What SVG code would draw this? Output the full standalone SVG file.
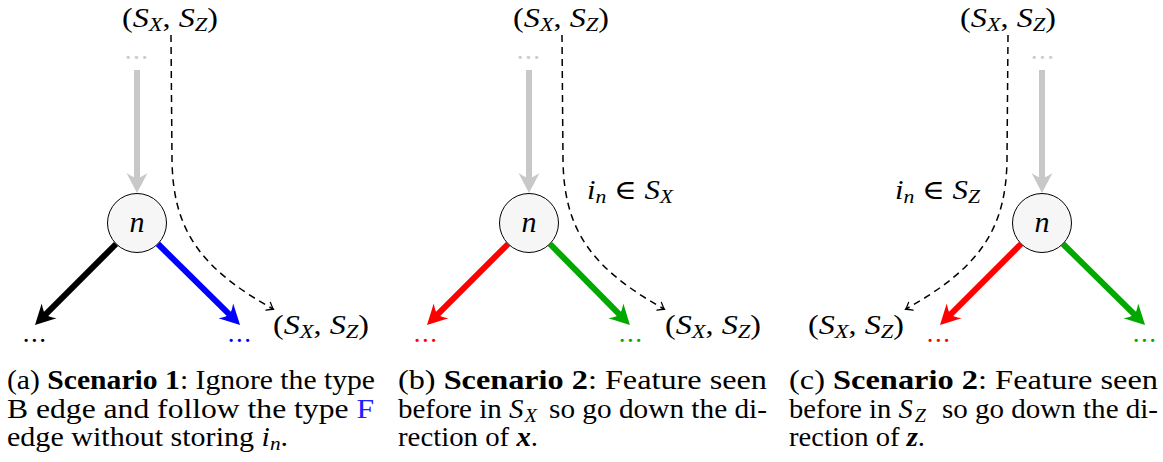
<svg xmlns="http://www.w3.org/2000/svg" width="1163" height="462" viewBox="0 0 1163 462">
<style>
text{font-family:"Liberation Serif","DejaVu Serif",serif;fill:#000;font-size:27px}
.m{font-style:italic}
.sub{font-size:19px;font-style:italic}
.b{font-weight:bold}
.dots{letter-spacing:1.5px;text-anchor:middle}
.node circle{fill:#f6f6f6;stroke:#000;stroke-width:1}
.nlab{font-size:30px;font-style:italic;text-anchor:middle}
.edge{fill:none;stroke-width:6}
.dash{fill:none;stroke:#000;stroke-width:1.5;stroke-dasharray:7 5}
</style>
<defs>
<marker id="hGrey" markerUnits="userSpaceOnUse" orient="auto" refX="0" refY="0" markerWidth="1" markerHeight="1" overflow="visible"><path d="M14,0 L-6,-10.5 Q-1,-3 -1,0 Q-1,3 -6,10.5 Z" fill="#c8c8c8"/></marker>
<marker id="hBlack" markerUnits="userSpaceOnUse" orient="auto" refX="0" refY="0" markerWidth="1" markerHeight="1" overflow="visible"><path d="M14,0 L-6,-10.5 Q-1,-3 -1,0 Q-1,3 -6,10.5 Z" fill="#000"/></marker>
<marker id="hBlue" markerUnits="userSpaceOnUse" orient="auto" refX="0" refY="0" markerWidth="1" markerHeight="1" overflow="visible"><path d="M14,0 L-6,-10.5 Q-1,-3 -1,0 Q-1,3 -6,10.5 Z" fill="#0000ff"/></marker>
<marker id="hRed" markerUnits="userSpaceOnUse" orient="auto" refX="0" refY="0" markerWidth="1" markerHeight="1" overflow="visible"><path d="M14,0 L-6,-10.5 Q-1,-3 -1,0 Q-1,3 -6,10.5 Z" fill="#ff0000"/></marker>
<marker id="hGreen" markerUnits="userSpaceOnUse" orient="auto" refX="0" refY="0" markerWidth="1" markerHeight="1" overflow="visible"><path d="M14,0 L-6,-10.5 Q-1,-3 -1,0 Q-1,3 -6,10.5 Z" fill="#00a800"/></marker>
<marker id="hDash" markerUnits="userSpaceOnUse" orient="auto" refX="0" refY="0" markerWidth="1" markerHeight="1" overflow="visible"><path d="M-5.5,-4.5 Q-1.5,-1 0.5,0 Q-1.5,1 -5.5,4.5" fill="none" stroke="#000" stroke-width="1.3" stroke-linecap="round"/></marker>
</defs>

<!-- connectors -->
<g id="connectors">
  <!-- panel a -->
  <line class="edge" x1="137" y1="70" x2="137" y2="179" stroke="#c8c8c8" marker-end="url(#hGrey)"/>
  <line class="edge" x1="116" y1="244" x2="44.9" y2="315.1" stroke="#000" marker-end="url(#hBlack)"/>
  <line class="edge" x1="158" y1="244" x2="230.1" y2="315.1" stroke="#0000ff" marker-end="url(#hBlue)"/>
  <path class="dash" d="M171,35 L172,160 C173,230 200,268 273,309" marker-end="url(#hDash)"/>
  <!-- panel b -->
  <line class="edge" x1="529" y1="70" x2="529" y2="179" stroke="#c8c8c8" marker-end="url(#hGrey)"/>
  <line class="edge" x1="508" y1="244" x2="436.9" y2="315.1" stroke="#ff0000" marker-end="url(#hRed)"/>
  <line class="edge" x1="550" y1="244" x2="620.1" y2="315.1" stroke="#00a800" marker-end="url(#hGreen)"/>
  <path class="dash" d="M562,35 L563,160 C564,230 591,268 664,309" marker-end="url(#hDash)"/>
  <!-- panel c -->
  <line class="edge" x1="1042" y1="70" x2="1042" y2="179" stroke="#c8c8c8" marker-end="url(#hGrey)"/>
  <line class="edge" x1="1021" y1="244" x2="949.9" y2="315.1" stroke="#ff0000" marker-end="url(#hRed)"/>
  <line class="edge" x1="1063" y1="244" x2="1135.1" y2="315.1" stroke="#00a800" marker-end="url(#hGreen)"/>
  <path class="dash" d="M1008,35 L1007,160 C1006,230 979,268 906,309" marker-end="url(#hDash)"/>
</g>

<!-- nodes -->
<g id="node-a" class="node"><circle cx="137" cy="223" r="29.5"/><text class="nlab" x="137" y="232">n</text></g>
<g id="node-b" class="node"><circle cx="529" cy="223" r="29.5"/><text class="nlab" x="529" y="232">n</text></g>
<g id="node-c" class="node"><circle cx="1042" cy="223" r="29.5"/><text class="nlab" x="1042" y="232">n</text></g>

<!-- dots -->
<g id="dots">
  <text class="dots" x="137" y="59" style="fill:#cccccc">...</text>
  <text class="dots" x="35" y="342">...</text>
  <text class="dots" x="240" y="342" style="fill:#0000ff">...</text>
  <text class="dots" x="529" y="59" style="fill:#cccccc">...</text>
  <text class="dots" x="426" y="342" style="fill:#ff0000">...</text>
  <text class="dots" x="631" y="342" style="fill:#00a800">...</text>
  <text class="dots" x="1043" y="59" style="fill:#cccccc">...</text>
  <text class="dots" x="939" y="342" style="fill:#ff0000">...</text>
  <text class="dots" x="1145" y="342" style="fill:#00a800">...</text>
</g>

<!-- set labels -->
<g id="labels">
  <text x="122" y="27" textLength="96" lengthAdjust="spacingAndGlyphs">(<tspan class="m">S</tspan><tspan class="sub" dy="4">X</tspan><tspan dy="-4">, </tspan><tspan class="m">S</tspan><tspan class="sub" dy="4">Z</tspan><tspan dy="-4">)</tspan></text>
  <text x="273" y="334" textLength="96" lengthAdjust="spacingAndGlyphs">(<tspan class="m">S</tspan><tspan class="sub" dy="4">X</tspan><tspan dy="-4">, </tspan><tspan class="m">S</tspan><tspan class="sub" dy="4">Z</tspan><tspan dy="-4">)</tspan></text>

  <text x="513" y="27" textLength="96" lengthAdjust="spacingAndGlyphs">(<tspan class="m">S</tspan><tspan class="sub" dy="4">X</tspan><tspan dy="-4">, </tspan><tspan class="m">S</tspan><tspan class="sub" dy="4">Z</tspan><tspan dy="-4">)</tspan></text>
  <text x="665" y="334" textLength="96" lengthAdjust="spacingAndGlyphs">(<tspan class="m">S</tspan><tspan class="sub" dy="4">X</tspan><tspan dy="-4">, </tspan><tspan class="m">S</tspan><tspan class="sub" dy="4">Z</tspan><tspan dy="-4">)</tspan></text>
  <text x="587" y="199" textLength="86" lengthAdjust="spacingAndGlyphs"><tspan class="m">i</tspan><tspan class="sub" dy="4">n</tspan><tspan dy="-4"> ∈ </tspan><tspan class="m">S</tspan><tspan class="sub" dy="4">X</tspan></text>

  <text x="960" y="27" textLength="96" lengthAdjust="spacingAndGlyphs">(<tspan class="m">S</tspan><tspan class="sub" dy="4">X</tspan><tspan dy="-4">, </tspan><tspan class="m">S</tspan><tspan class="sub" dy="4">Z</tspan><tspan dy="-4">)</tspan></text>
  <text x="808" y="334" textLength="96" lengthAdjust="spacingAndGlyphs">(<tspan class="m">S</tspan><tspan class="sub" dy="4">X</tspan><tspan dy="-4">, </tspan><tspan class="m">S</tspan><tspan class="sub" dy="4">Z</tspan><tspan dy="-4">)</tspan></text>
  <text x="895" y="199" textLength="85" lengthAdjust="spacingAndGlyphs"><tspan class="m">i</tspan><tspan class="sub" dy="4">n</tspan><tspan dy="-4"> ∈ </tspan><tspan class="m">S</tspan><tspan class="sub" dy="4">Z</tspan></text>
</g>

<!-- captions -->
<g id="caption-a">
  <text x="7" y="389" textLength="368" lengthAdjust="spacingAndGlyphs">(a) <tspan class="b">Scenario 1</tspan>: Ignore the type</text>
  <text x="7" y="417.5" textLength="367" lengthAdjust="spacingAndGlyphs">B edge and follow the type <tspan style="fill:#2020ff">F</tspan></text>
  <text x="7" y="446" textLength="281" lengthAdjust="spacingAndGlyphs">edge without storing <tspan class="m">i</tspan><tspan class="sub" dy="4">n</tspan><tspan dy="-4">.</tspan></text>
</g>
<g id="caption-b">
  <text x="398" y="389" textLength="369" lengthAdjust="spacingAndGlyphs">(b) <tspan class="b">Scenario 2</tspan>: Feature seen</text>
  <text x="398" y="417.5" textLength="139" lengthAdjust="spacingAndGlyphs">before in <tspan class="m">S</tspan><tspan class="sub" dx="1" dy="4">X</tspan></text>
  <text x="767" y="417.5" text-anchor="end" textLength="218" lengthAdjust="spacingAndGlyphs">so go down the di-</text>
  <text x="398" y="446" textLength="140" lengthAdjust="spacingAndGlyphs">rection of <tspan class="m b">x</tspan>.</text>
</g>
<g id="caption-c">
  <text x="789" y="389" textLength="369" lengthAdjust="spacingAndGlyphs">(c) <tspan class="b">Scenario 2</tspan>: Feature seen</text>
  <text x="789" y="417.5" textLength="137" lengthAdjust="spacingAndGlyphs">before in <tspan class="m">S</tspan><tspan class="sub" dx="2" dy="4">Z</tspan></text>
  <text x="1158" y="417.5" text-anchor="end" textLength="216" lengthAdjust="spacingAndGlyphs">so go down the di-</text>
  <text x="789" y="446" textLength="136" lengthAdjust="spacingAndGlyphs">rection of <tspan class="m b">z</tspan>.</text>
</g>
</svg>
